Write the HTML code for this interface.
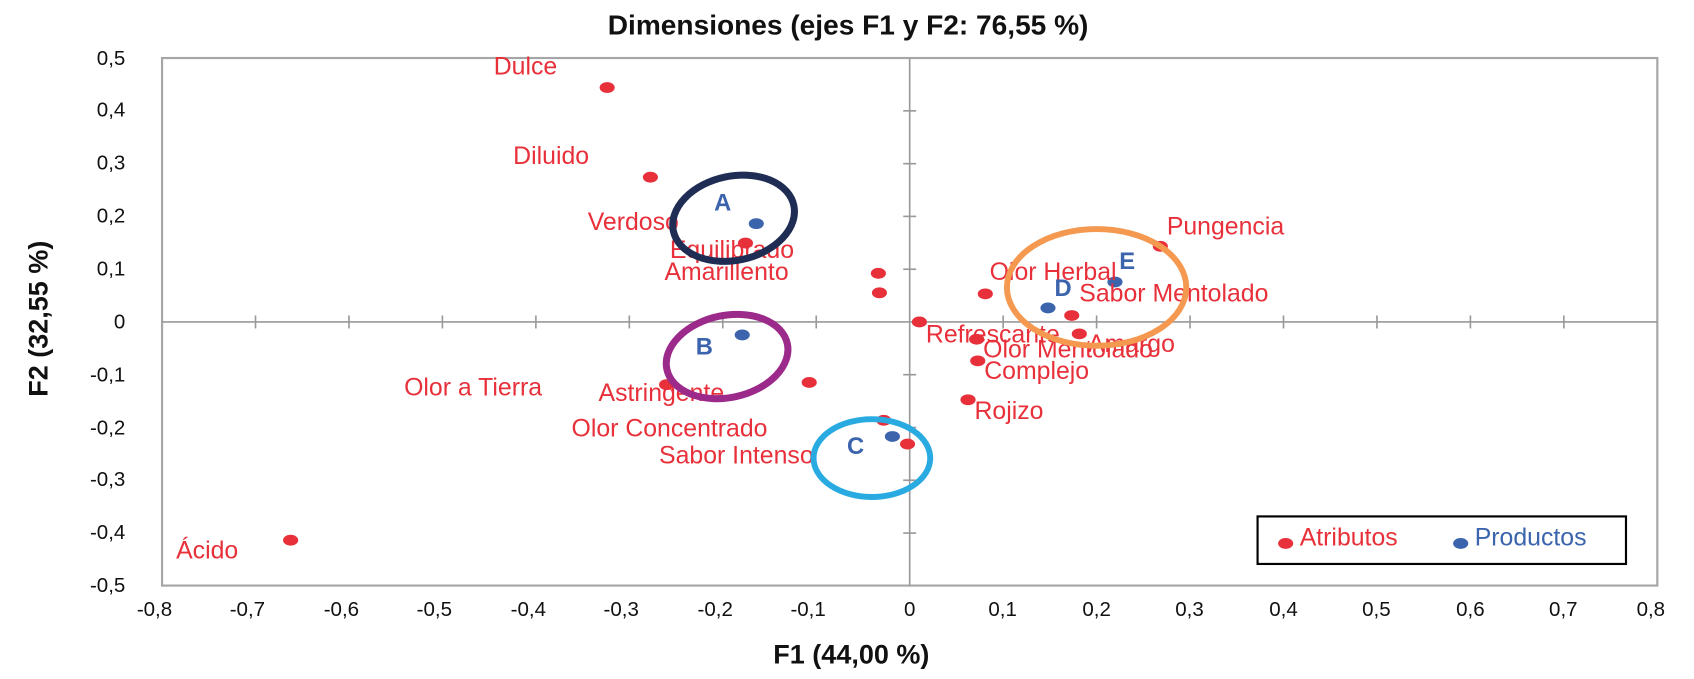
<!DOCTYPE html>
<html><head><meta charset="utf-8"><style>
html,body{margin:0;padding:0;background:#fff;}
svg{display:block;}
text{font-family:"Liberation Sans",sans-serif;}
.r{fill:#e8303a;font-size:23px;}
.t{fill:#111;font-size:19px;}
.b{fill:#3b64ad;font-size:22px;font-weight:bold;}
</style></head><body>
<svg width="1694" height="679" viewBox="0 0 1694 679" xmlns="http://www.w3.org/2000/svg">
<g transform="scale(1.08039)">
<text x="785" y="32" text-anchor="middle" font-size="26" font-weight="bold" fill="#111">Dimensiones (ejes F1 y F2: 76,55 %)</text>
<rect x="150" y="53.7" width="1384" height="488.3" fill="none" stroke="#a6a6a6" stroke-width="2"/>
<line x1="150" y1="298" x2="1534" y2="298" stroke="#999" stroke-width="1.5"/>
<line x1="842" y1="53.7" x2="842" y2="542" stroke="#999" stroke-width="1.5"/>
<g stroke="#999" stroke-width="1.5">
<line x1="236.5" y1="292" x2="236.5" y2="304"/><line x1="323" y1="292" x2="323" y2="304"/><line x1="409.5" y1="292" x2="409.5" y2="304"/><line x1="496" y1="292" x2="496" y2="304"/><line x1="582.5" y1="292" x2="582.5" y2="304"/><line x1="669" y1="292" x2="669" y2="304"/><line x1="755.5" y1="292" x2="755.5" y2="304"/><line x1="928.5" y1="292" x2="928.5" y2="304"/><line x1="1015" y1="292" x2="1015" y2="304"/><line x1="1101.5" y1="292" x2="1101.5" y2="304"/><line x1="1188" y1="292" x2="1188" y2="304"/><line x1="1274.5" y1="292" x2="1274.5" y2="304"/><line x1="1361" y1="292" x2="1361" y2="304"/><line x1="1447.5" y1="292" x2="1447.5" y2="304"/>
<line x1="836" y1="102.6" x2="848" y2="102.6"/><line x1="836" y1="151.5" x2="848" y2="151.5"/><line x1="836" y1="200.3" x2="848" y2="200.3"/><line x1="836" y1="249.2" x2="848" y2="249.2"/><line x1="836" y1="346.8" x2="848" y2="346.8"/><line x1="836" y1="395.7" x2="848" y2="395.7"/><line x1="836" y1="444.5" x2="848" y2="444.5"/><line x1="836" y1="493.4" x2="848" y2="493.4"/>
</g>
<g class="t" text-anchor="end">
<text x="116" y="60">0,5</text><text x="116" y="108">0,4</text><text x="116" y="157">0,3</text><text x="116" y="206">0,2</text><text x="116" y="255">0,1</text><text x="116" y="304">0</text><text x="116" y="353">-0,1</text><text x="116" y="402">-0,2</text><text x="116" y="450">-0,3</text><text x="116" y="499">-0,4</text><text x="116" y="548">-0,5</text>
</g>
<g class="t" text-anchor="middle">
<text x="143" y="570">-0,8</text><text x="229" y="570">-0,7</text><text x="316" y="570">-0,6</text><text x="402" y="570">-0,5</text><text x="489" y="570">-0,4</text><text x="575" y="570">-0,3</text><text x="662" y="570">-0,2</text><text x="748" y="570">-0,1</text><text x="842" y="570">0</text><text x="928" y="570">0,1</text><text x="1015" y="570">0,2</text><text x="1101" y="570">0,3</text><text x="1188" y="570">0,4</text><text x="1274" y="570">0,5</text><text x="1361" y="570">0,6</text><text x="1447" y="570">0,7</text><text x="1528" y="570">0,8</text>
</g>
<text x="788" y="614" text-anchor="middle" font-size="25" font-weight="bold" fill="#111">F1 (44,00 %)</text>
<text transform="translate(44,295) rotate(-90)" text-anchor="middle" font-size="25" font-weight="bold" fill="#111">F2 (32,55 %)</text>
<g fill="#e8303a">
<ellipse cx="562" cy="81" rx="7" ry="5"/><ellipse cx="602" cy="164" rx="7" ry="5"/><ellipse cx="690" cy="225" rx="7" ry="5"/><ellipse cx="813" cy="253" rx="7" ry="5"/><ellipse cx="814" cy="271" rx="7" ry="5"/><ellipse cx="851" cy="298" rx="7" ry="5"/><ellipse cx="912" cy="272" rx="7" ry="5"/><ellipse cx="992" cy="292" rx="7" ry="5"/><ellipse cx="999" cy="309" rx="7" ry="5"/><ellipse cx="904" cy="314" rx="7" ry="5"/><ellipse cx="905" cy="334" rx="7" ry="5"/><ellipse cx="896" cy="370" rx="7" ry="5"/><ellipse cx="1074" cy="228" rx="7" ry="5"/><ellipse cx="749" cy="354" rx="7" ry="5"/><ellipse cx="617" cy="356" rx="7" ry="5"/><ellipse cx="818" cy="389" rx="7" ry="5"/><ellipse cx="840" cy="411" rx="7" ry="5"/><ellipse cx="269" cy="500" rx="7" ry="5"/>
</g>
<g fill="#3b64ad">
<ellipse cx="700" cy="207" rx="7" ry="5"/><ellipse cx="687" cy="310" rx="7" ry="5"/><ellipse cx="826" cy="404" rx="7" ry="5"/><ellipse cx="970" cy="285" rx="7" ry="5"/><ellipse cx="1032" cy="261" rx="7" ry="5"/>
</g>
<g class="r">
<text x="457" y="69">Dulce</text><text x="475" y="152">Diluido</text><text x="544" y="213">Verdoso</text><text x="620" y="239">Equilibrado</text><text x="615" y="259">Amarillento</text><text x="916" y="259">Olor Herbal</text><text x="999" y="279">Sabor Mentolado</text><text x="1080" y="217">Pungencia</text><text x="857" y="317">Refrescante</text><text x="1007" y="326">Amargo</text><text x="910" y="331">Olor Mentolado</text><text x="911" y="351">Complejo</text><text x="902" y="388">Rojizo</text><text x="374" y="366">Olor a Tierra</text><text x="554" y="371">Astringente</text><text x="529" y="404">Olor Concentrado</text><text x="610" y="429">Sabor Intenso</text><text x="163" y="517">Ácido</text>
</g>
<g class="b">
<text x="661" y="195">A</text><text x="644" y="328">B</text><text x="784" y="420">C</text><text x="976" y="274">D</text><text x="1036" y="249">E</text>
</g>
<g fill="none">
<ellipse cx="679" cy="202" rx="57" ry="39" transform="rotate(-12 679 202)" stroke="#1f2d55" stroke-width="6.5"/>
<ellipse cx="673" cy="330" rx="57" ry="38" transform="rotate(-12 673 330)" stroke="#9b2a8a" stroke-width="6.5"/>
<ellipse cx="807" cy="424" rx="54" ry="36" stroke="#29abe2" stroke-width="5.5"/>
<ellipse cx="1015" cy="266" rx="83" ry="54" stroke="#f4994f" stroke-width="5.5"/>
</g>
<rect x="1164" y="478" width="341" height="44" fill="none" stroke="#000" stroke-width="2"/>
<ellipse cx="1190" cy="503" rx="7" ry="5" fill="#e8303a"/>
<text x="1203" y="505" class="r">Atributos</text>
<ellipse cx="1352" cy="503" rx="7" ry="5" fill="#3b64ad"/>
<text x="1365" y="505" font-size="23" fill="#3b64ad">Productos</text>
</g>
</svg>
</body></html>
